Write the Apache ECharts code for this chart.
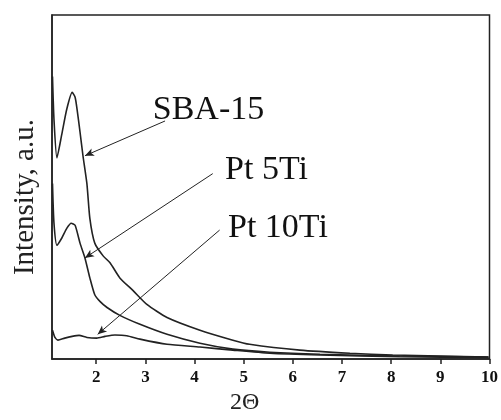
<!DOCTYPE html>
<html>
<head>
<meta charset="utf-8">
<script src="https://cdn.jsdelivr.net/npm/echarts@6/dist/echarts.min.js"></script>
<style>
  html, body { margin: 0; padding: 0; background: #fff; }
  #chart { width: 501px; height: 420px; }
</style>
</head>
<body>
<div id="chart"></div>
<script>
// 2-theta values (deg) and intensity (a.u., 0..100)
let sbaX  = [1.11, 1.14, 1.20, 1.30, 1.40, 1.51, 1.57, 1.61, 1.67, 1.73, 1.81, 1.87, 1.97, 2.14, 2.28, 2.48, 2.75, 3.03, 3.44, 4.11, 4.78, 5.12, 6.14, 7.16, 8.03, 8.99, 9.98];
let sbaY  = [82.1, 69.7, 58.5, 65.4, 72.6, 77.5, 76.1, 72.6, 66.0, 59.1, 51.0, 40.9, 33.7, 30.0, 28.0, 23.6, 19.9, 15.9, 12.1, 8.4, 5.5, 4.3, 2.6, 1.7, 1.2, 0.9, 0.6];

let pt5X  = [1.11, 1.14, 1.20, 1.30, 1.40, 1.49, 1.57, 1.67, 1.77, 1.87, 1.97, 2.08, 2.22, 2.48, 2.89, 3.44, 4.11, 4.78, 5.53, 6.55, 8.17, 9.98];
let pt5Y  = [51.0, 39.5, 33.1, 35.2, 38.0, 39.5, 38.9, 33.7, 29.4, 23.6, 18.7, 16.7, 15.0, 12.7, 10.1, 7.2, 4.6, 2.9, 2.0, 1.4, 0.9, 0.6];

let pt10X = [1.11, 1.16, 1.22, 1.36, 1.51, 1.65, 1.81, 2.01, 2.18, 2.38, 2.62, 2.89, 3.44, 4.11, 4.78, 5.53, 6.55, 8.17, 9.98];
let pt10Y = [8.4, 6.3, 5.5, 6.1, 6.6, 6.9, 6.3, 6.1, 6.6, 7.0, 6.8, 5.8, 4.3, 3.5, 2.6, 1.7, 1.2, 0.7, 0.4];

let xTicks = [2, 3, 4, 5, 6, 7, 8, 9, 10];

// labels: [text, x, y] and arrows: [fromX, fromY, toX, toY], in data units
let labels = [['SBA-15', 3.15, 72.4], ['Pt 5Ti', 4.62, 54.8], ['Pt 10Ti', 4.68, 38.1]];
let arrows = [[3.40, 69.2, 1.77, 59.1], [4.37, 53.9, 1.77, 29.4], [4.51, 37.5, 2.03, 7.2]];

const ink = '#222';
const serif = '"Liberation Serif", "Times New Roman", serif';

let zip = (xs, ys) => xs.map((x, i) => [x, ys[i]]);

let chart = echarts.init(document.getElementById('chart'), null, { renderer: 'canvas' });

let lineSeries = (name, data) => ({
    name: name,
    type: 'line',
    data: data,
    showSymbol: false,
    smooth: 0.2,
    lineStyle: { color: ink, width: 1.6 },
    animation: false
});

let option = {
    animation: false,
    grid: { left: 52, right: 11, top: 15, bottom: 58, show: true, borderColor: ink, borderWidth: 1.5 },
    xAxis: {
        type: 'value',
        min: 1.1,
        max: 10,
        name: '2Θ',
        nameLocation: 'middle',
        nameGap: 31,
        nameTextStyle: { fontFamily: serif, fontSize: 24, color: ink, padding: [0, 52, 0, 0] },
        axisLine: { lineStyle: { color: ink, width: 1.5 } },
        axisTick: { customValues: xTicks, length: 5, lineStyle: { color: ink, width: 1.5 } },
        axisLabel: { customValues: xTicks, fontFamily: serif, fontWeight: 'bold', fontSize: 17, color: '#111', margin: 10 },
        splitLine: { show: false }
    },
    yAxis: {
        type: 'value',
        min: 0,
        max: 100,
        name: 'Intensity, a.u.',
        nameLocation: 'middle',
        nameGap: 12,
        nameRotate: 90,
        nameTextStyle: { fontFamily: serif, fontSize: 29, color: ink, padding: [0, 20, 0, 0] },
        axisLine: { show: true, lineStyle: { color: ink, width: 1.5 } },
        axisTick: { show: false },
        axisLabel: { show: false },
        splitLine: { show: false }
    },
    series: [
        lineSeries('SBA-15', zip(sbaX, sbaY)),
        lineSeries('Pt 5Ti', zip(pt5X, pt5Y)),
        lineSeries('Pt 10Ti', zip(pt10X, pt10Y)),
        {
            type: 'line',
            data: [],
            markLine: {
                silent: true,
                animation: false,
                symbol: ['none', 'arrow'],
                symbolSize: [6, 9],
                label: { show: false },
                lineStyle: { color: ink, width: 1, type: 'solid' },
                emphasis: { disabled: true },
                data: arrows.map(a => [{ coord: [a[0], a[1]] }, { coord: [a[2], a[3]] }])
            }
        }
    ]
};

chart.setOption(option);

// annotation texts placed at data positions
chart.setOption({
    graphic: labels.map(l => {
        let p = chart.convertToPixel({ gridIndex: 0 }, [l[1], l[2]]);
        return {
            type: 'text',
            x: p[0],
            y: p[1],
            style: { text: l[0], font: '34px ' + serif, fill: '#111', textAlign: 'left', textVerticalAlign: 'middle' }
        };
    })
});
</script>
</body>
</html>
